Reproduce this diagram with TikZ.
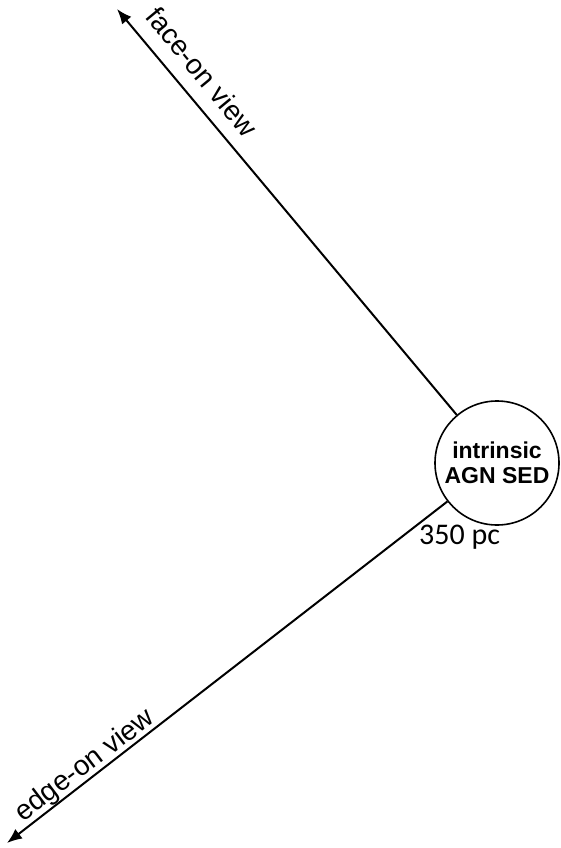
\documentclass[tikz,border=0pt]{standalone}
\usepackage{fontspec}
\setmainfont{Liberation Sans}
\newfontfamily\calibrifont{Carlito}
\usetikzlibrary{arrows.meta}
\begin{document}
\begin{tikzpicture}[x=1pt,y=-1pt,
  viewarrow/.style={line width=2pt,-{Latex[length=15pt,width=12pt]}},
  viewlabel/.style={font=\fontsize{28}{30}\selectfont,inner sep=0pt},
  source/.style={circle,draw,line width=1.6pt,minimum size=124pt,inner sep=0pt,
    align=center,font=\bfseries\fontsize{23}{25}\selectfont}]
  \useasboundingbox (0,0) rectangle (561,848);
  \node[source] (agn) at (497,463) {intrinsic\\AGN SED};
  \coordinate (faceon) at (117,9);
  \coordinate (edgeon) at (7,843);
  \draw[viewarrow] (agn) -- (faceon);
  \draw[viewarrow] (agn) -- (edgeon);
  \node[viewlabel,rotate=-50.4] (facelbl) at (202,72) {face-on view};
  \node[viewlabel,rotate=37.3] (edgelbl) at (85,766) {edge-on view};
  \node[font=\calibrifont\fontsize{30}{32}\selectfont,anchor=base west,inner sep=0pt]
    (scale) at (419,544) {350 pc};
\end{tikzpicture}
\end{document}
